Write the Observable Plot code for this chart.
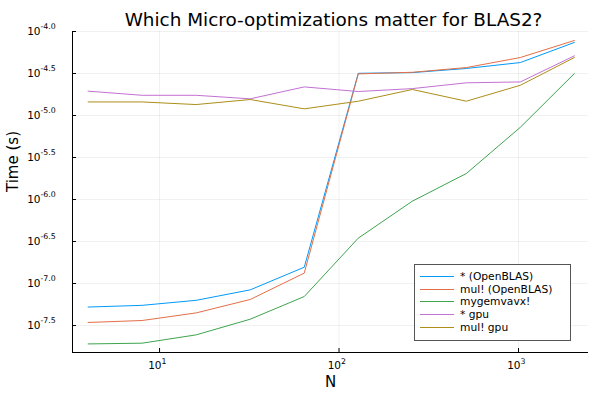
<!DOCTYPE html>
<html>
<head>
<meta charset="utf-8">
<script src="https://cdn.jsdelivr.net/npm/d3@7"></script>
<script src="https://cdn.jsdelivr.net/npm/@observablehq/plot@0.6"></script>
<style>
  body { margin: 0; background: #fff; font-family: "DejaVu Sans", sans-serif; }
  #wrap { position: relative; width: 600px; height: 400px; }
  #legend { position: absolute; left: 414px; top: 264px; width: 157px; height: 77px;
    border: 1px solid #555; background: #fff; box-sizing: border-box; padding-top: 5px; }
  .row { display: flex; align-items: center; height: 12.7px; font-size: 10.7px; color: #000; }
  .sw { width: 34px; margin-left: 5px; margin-right: 6px; height: 0; border-top: 1.2px solid; }
</style>
</head>
<body>
<div id="wrap"></div>
<script>
const N = [4, 8, 16, 32, 64, 128, 256, 512, 1024, 2048];
const seriesNames = ["* (OpenBLAS)", "mul! (OpenBLAS)", "mygemvavx!", "* gpu", "mul! gpu"];
const seriesColors = ["#009AFA", "#E36F47", "#3EA44E", "#C371D2", "#AC8E18"];
const starOpenBLAS = [5.25e-8, 5.50e-8, 6.31e-8, 8.41e-8, 1.563e-7, 3.18e-5, 3.24e-5, 3.63e-5, 4.27e-5, 7.41e-5];
const mulOpenBLAS  = [3.44e-8, 3.63e-8, 4.47e-8, 6.46e-8, 1.33e-7, 3.13e-5, 3.27e-5, 3.72e-5, 4.90e-5, 7.82e-5];
const mygemvavx    = [1.91e-8, 1.95e-8, 2.45e-8, 3.76e-8, 7.0e-8, 3.47e-7, 9.55e-7, 2.04e-6, 7.24e-6, 3.16e-5];
const starGpu      = [1.95e-5, 1.74e-5, 1.74e-5, 1.58e-5, 2.19e-5, 1.93e-5, 2.09e-5, 2.45e-5, 2.51e-5, 5.13e-5];
const mulGpu       = [1.45e-5, 1.45e-5, 1.35e-5, 1.55e-5, 1.20e-5, 1.48e-5, 2.04e-5, 1.48e-5, 2.29e-5, 4.90e-5];
const yTickExps = ["-4.0", "-4.5", "-5.0", "-5.5", "-6.0", "-6.5", "-7.0", "-7.5"];
const xTickExps = ["1", "2", "3"];
const title = "Which Micro-optimizations matter for BLAS2?";
const xLabel = "N";
const yLabel = "Time (s)";

const allSeries = [starOpenBLAS, mulOpenBLAS, mygemvavx, starGpu, mulGpu];
const data = [];
allSeries.forEach((vals, i) => vals.forEach((v, j) => data.push({series: seriesNames[i], N: N[j], t: v})));

const yTicks = yTickExps.map(e => Math.pow(10, +e));
const xTicks = xTickExps.map(e => Math.pow(10, +e));
const xDomain = [Math.pow(10, 0.515), Math.pow(10, 3.39)];
const yDomain = [Math.pow(10, -7.821), Math.pow(10, -4.0)];
const font = "DejaVu Sans";

const chart = Plot.plot({
  width: 600, height: 400,
  marginLeft: 72, marginRight: 12, marginTop: 31, marginBottom: 48,
  style: {fontFamily: font, background: "#fff"},
  x: {type: "log", domain: xDomain, axis: null},
  y: {type: "log", domain: yDomain, axis: null},
  color: {domain: seriesNames, range: seriesColors},
  marks: [
    Plot.gridX(xTicks, {stroke: "#000", strokeOpacity: 0.1, strokeWidth: 0.6}),
    Plot.gridY(yTicks, {stroke: "#000", strokeOpacity: 0.1, strokeWidth: 0.6}),
    Plot.line(data, {x: "N", y: "t", z: "series", stroke: "series", strokeWidth: 1}),
    Plot.ruleX([xDomain[0]], {stroke: "#000", strokeWidth: 1}),
    Plot.ruleY([yDomain[0]], {stroke: "#000", strokeWidth: 1}),
    Plot.axisX(xTicks, {tickSize: -4, tickFormat: () => "", label: null, stroke: "#000"}),
    Plot.axisY(yTicks, {tickSize: -4, tickFormat: () => "", label: null, stroke: "#000"}),
    Plot.text(yTicks, {y: d => d, frameAnchor: "left", text: () => "10", textAnchor: "end", dx: -32, fontSize: 10.5, fill: "#000"}),
    Plot.text(yTickExps, {y: d => Math.pow(10, +d), frameAnchor: "left", text: d => d, textAnchor: "start", dx: -32, dy: -5, fontSize: 7.8, fill: "#000"}),
    Plot.text(xTicks, {x: d => d, frameAnchor: "bottom", text: () => "10", textAnchor: "end", dx: 2, dy: 16, fontSize: 10.5, fill: "#000"}),
    Plot.text(xTickExps, {x: d => Math.pow(10, +d), frameAnchor: "bottom", text: d => d, textAnchor: "start", dx: 2, dy: 11, fontSize: 7.8, fill: "#000"}),
    Plot.text([title], {frameAnchor: "top", text: d => d, dx: 3, dy: -19, fontSize: 18.4, fill: "#000"}),
    Plot.text([xLabel], {frameAnchor: "bottom", text: d => d, dy: 34, fontSize: 15, fill: "#000"}),
    Plot.text([yLabel], {frameAnchor: "left", text: d => d, dx: -59, rotate: -90, fontSize: 15, fill: "#000"})
  ]
});
const wrap = document.getElementById("wrap");
wrap.appendChild(chart);

const legend = document.createElement("div");
legend.id = "legend";
seriesNames.forEach((name, i) => {
  const row = document.createElement("div");
  row.className = "row";
  const sw = document.createElement("span");
  sw.className = "sw";
  sw.style.borderTopColor = seriesColors[i];
  const label = document.createElement("span");
  label.textContent = name;
  row.appendChild(sw);
  row.appendChild(label);
  legend.appendChild(row);
});
wrap.appendChild(legend);
</script>
</body>
</html>
